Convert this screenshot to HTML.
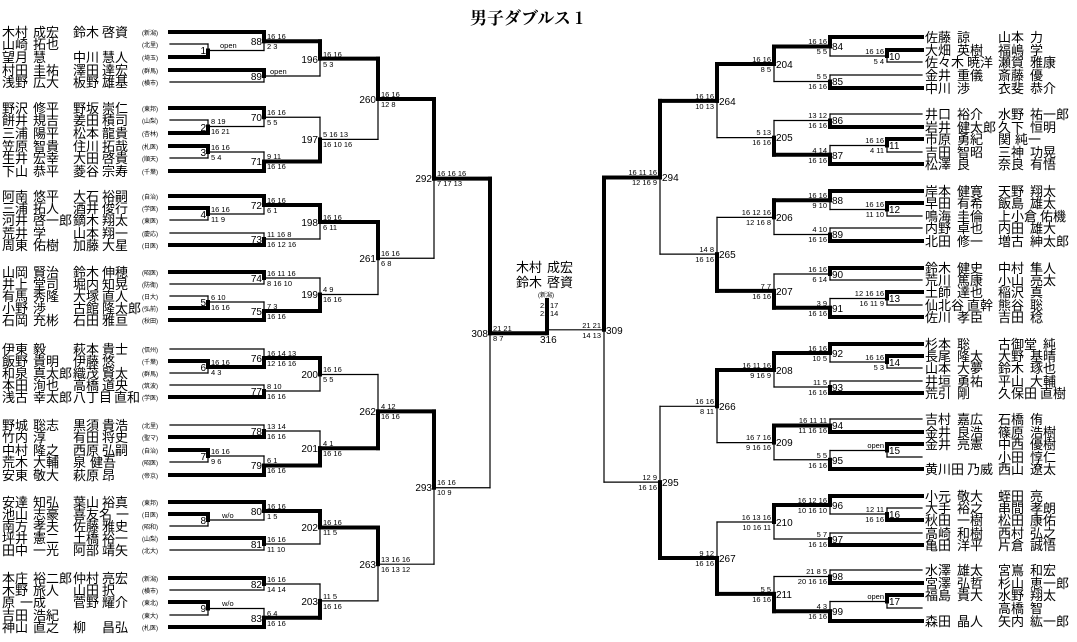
<!DOCTYPE html>
<html><head><meta charset="utf-8"><style>
html,body{margin:0;padding:0;background:#fff}
svg{display:block}
text{font-family:"Liberation Sans","Noto Sans CJK JP",sans-serif;fill:#000}
.nm{font-size:13px}
.sc{font-size:6px}
.s{font-size:7.5px}
.n{font-size:10px}
.r .s{text-anchor:end}
.l .n{text-anchor:end}
</style></head><body>
<svg id="svg" width="1077" height="642" viewBox="0 0 1077 642" xmlns="http://www.w3.org/2000/svg">
<text x="470" y="24" style="font-family:'Noto Serif CJK SC',serif;font-size:17px;font-weight:bold">男子ダブルス 1</text>
<g id="g" stroke="#000" stroke-linecap="square"></g>

<g class="nm">
<text x="2" y="37">木村<tspan x="33">成宏</tspan><tspan x="73">鈴木</tspan><tspan x="102">啓資</tspan></text>
<text x="2" y="49">山崎<tspan x="33">拓也</tspan></text>
<text x="2" y="62">望月<tspan x="33">慧</tspan><tspan x="73">中川</tspan><tspan x="102">慧人</tspan></text>
<text x="2" y="75">村田<tspan x="33">圭祐</tspan><tspan x="73">澤田</tspan><tspan x="102">達宏</tspan></text>
<text x="2" y="87">浅野<tspan x="33">広大</tspan><tspan x="73">板野</tspan><tspan x="102">雄基</tspan></text>
<text x="2" y="113">野沢<tspan x="33">修平</tspan><tspan x="73">野坂</tspan><tspan x="102">崇仁</tspan></text>
<text x="2" y="125">餅井<tspan x="33">規吉</tspan><tspan x="73">姜田</tspan><tspan x="102">積司</tspan></text>
<text x="2" y="138">三浦<tspan x="33">陽平</tspan><tspan x="73">松本</tspan><tspan x="102">龍貴</tspan></text>
<text x="2" y="151">笠原<tspan x="33">智貴</tspan><tspan x="73">住川</tspan><tspan x="102">拓哉</tspan></text>
<text x="2" y="163">生井<tspan x="33">宏幸</tspan><tspan x="73">大田</tspan><tspan x="102">啓貴</tspan></text>
<text x="2" y="176">下山<tspan x="33">恭平</tspan><tspan x="73">菱谷</tspan><tspan x="102">宗寿</tspan></text>
<text x="2" y="201">阿南<tspan x="33">悠平</tspan><tspan x="73">大石</tspan><tspan x="102">裕嗣</tspan></text>
<text x="2" y="213">三浦<tspan x="33">拓人</tspan><tspan x="73">酒井</tspan><tspan x="102">俊行</tspan></text>
<text x="2" y="225">河井<tspan x="33">啓一郎</tspan><tspan x="73">鏑木</tspan><tspan x="102">翔太</tspan></text>
<text x="2" y="238">荒井<tspan x="33">学</tspan><tspan x="73">山本</tspan><tspan x="102">翔一</tspan></text>
<text x="2" y="250">周東<tspan x="33">佑樹</tspan><tspan x="73">加藤</tspan><tspan x="102">大星</tspan></text>
<text x="2" y="277">山岡<tspan x="33">賢治</tspan><tspan x="73">鈴木</tspan><tspan x="102">伸穂</tspan></text>
<text x="2" y="289">井上<tspan x="33">堂司</tspan><tspan x="73">堀内</tspan><tspan x="102">知晃</tspan></text>
<text x="2" y="301">有馬<tspan x="33">秀隆</tspan><tspan x="73">大塚</tspan><tspan x="102">直人</tspan></text>
<text x="2" y="313">小野<tspan x="33">渉</tspan><tspan x="73">古館</tspan><tspan x="102">隆太郎</tspan></text>
<text x="2" y="325">石岡<tspan x="33">充彬</tspan><tspan x="73">石田</tspan><tspan x="102">雅亘</tspan></text>
<text x="2" y="354">伊東<tspan x="33">毅</tspan><tspan x="73">萩本</tspan><tspan x="102">貴士</tspan></text>
<text x="2" y="366">飯野<tspan x="33">貴明</tspan><tspan x="73">伊藤</tspan><tspan x="102">悠</tspan></text>
<text x="2" y="378">和泉<tspan x="33">真太郎</tspan><tspan x="73">織茂</tspan><tspan x="102">賢太</tspan></text>
<text x="2" y="390">本田<tspan x="33">洵也</tspan><tspan x="73">高橋</tspan><tspan x="102">道央</tspan></text>
<text x="2" y="402">浅古<tspan x="33">幸太郎</tspan><tspan x="73">八丁目</tspan><tspan x="114">直和</tspan></text>
<text x="2" y="430">野城<tspan x="33">聡志</tspan><tspan x="73">黒須</tspan><tspan x="102">貴浩</tspan></text>
<text x="2" y="442">竹内<tspan x="33">淳</tspan><tspan x="73">有田</tspan><tspan x="102">将史</tspan></text>
<text x="2" y="455">中村<tspan x="33">隆之</tspan><tspan x="73">西原</tspan><tspan x="102">弘嗣</tspan></text>
<text x="2" y="467">荒木<tspan x="33">大輔</tspan><tspan x="73">泉</tspan><tspan x="90">健吾</tspan></text>
<text x="2" y="480">安東<tspan x="33">敬大</tspan><tspan x="73">萩原</tspan><tspan x="102">昂</tspan></text>
<text x="2" y="507">安達<tspan x="33">知弘</tspan><tspan x="73">葉山</tspan><tspan x="102">裕真</tspan></text>
<text x="2" y="519">池山<tspan x="33">志豪</tspan><tspan x="73">喜友名</tspan><tspan x="116">一</tspan></text>
<text x="2" y="531">南方<tspan x="33">孝夫</tspan><tspan x="73">佐藤</tspan><tspan x="102">雅史</tspan></text>
<text x="2" y="543">坪井<tspan x="33">憲二</tspan><tspan x="73">土橋</tspan><tspan x="102">裕一</tspan></text>
<text x="2" y="555">田中<tspan x="33">一光</tspan><tspan x="73">阿部</tspan><tspan x="102">靖矢</tspan></text>
<text x="2" y="583">本庄<tspan x="33">裕二郎</tspan><tspan x="73">仲村</tspan><tspan x="102">亮宏</tspan></text>
<text x="2" y="595">木野<tspan x="33">旅人</tspan><tspan x="73">山田</tspan><tspan x="102">択</tspan></text>
<text x="2" y="607">原<tspan x="20">一成</tspan><tspan x="73">菅野</tspan><tspan x="102">耀介</tspan></text>
<text x="2" y="620">吉田<tspan x="33">浩紀</tspan></text>
<text x="2" y="632">神山<tspan x="33">直之</tspan><tspan x="73">柳</tspan><tspan x="102">昌弘</tspan></text>
</g>

<g class="sc">
<text x="142" y="35">(新潟)</text><text x="142" y="47">(北里)</text><text x="142" y="60">(埼玉)</text><text x="142" y="73">(群馬)</text><text x="142" y="85">(横市)</text>
<text x="142" y="111">(東邦)</text><text x="142" y="123">(山梨)</text><text x="142" y="136">(杏林)</text><text x="142" y="149">(札医)</text><text x="142" y="161">(順天)</text><text x="142" y="174">(千葉)</text>
<text x="142" y="199">(自治)</text><text x="142" y="211">(学医)</text><text x="142" y="223">(東医)</text><text x="142" y="236">(慶応)</text><text x="142" y="248">(日医)</text>
<text x="142" y="275">(昭医)</text><text x="142" y="287">(防衛)</text><text x="142" y="299">(日大)</text><text x="142" y="311">(弘前)</text><text x="142" y="323">(秋田)</text>
<text x="142" y="352">(信州)</text><text x="142" y="364">(千葉)</text><text x="142" y="376">(群馬)</text><text x="142" y="388">(筑波)</text><text x="142" y="400">(学医)</text>
<text x="142" y="428">(北里)</text><text x="142" y="440">(聖マ)</text><text x="142" y="453">(自治)</text><text x="142" y="465">(昭医)</text><text x="142" y="478">(帝京)</text>
<text x="142" y="505">(東邦)</text><text x="142" y="517">(日医)</text><text x="142" y="529">(昭和)</text><text x="142" y="541">(山梨)</text><text x="142" y="553">(北大)</text>
<text x="142" y="581">(新潟)</text><text x="142" y="593">(横市)</text><text x="142" y="605">(東北)</text><text x="142" y="618">(東大)</text><text x="142" y="630">(札医)</text>
</g>

<g class="nm">
<text x="925" y="42">佐藤<tspan x="957">諒</tspan><tspan x="998">山本</tspan><tspan x="1030">力</tspan></text>
<text x="925" y="55">大畑<tspan x="957">英樹</tspan><tspan x="998">福嶋</tspan><tspan x="1030">学</tspan></text>
<text x="925" y="67">佐々木<tspan x="967">暁洋</tspan><tspan x="998">瀬賀</tspan><tspan x="1030">雅康</tspan></text>
<text x="925" y="80">金井<tspan x="957">重儀</tspan><tspan x="998">斎藤</tspan><tspan x="1030">優</tspan></text>
<text x="925" y="93">中川<tspan x="957">渉</tspan><tspan x="998">衣斐</tspan><tspan x="1030">恭介</tspan></text>
<text x="925" y="119">井口<tspan x="957">裕介</tspan><tspan x="998">水野</tspan><tspan x="1030">祐一郎</tspan></text>
<text x="925" y="132">岩井<tspan x="957">健太郎</tspan><tspan x="998">久下</tspan><tspan x="1030">恒明</tspan></text>
<text x="925" y="144">市原<tspan x="957">勇紀</tspan><tspan x="998">関</tspan><tspan x="1015">純一</tspan></text>
<text x="925" y="157">吉田<tspan x="957">智昭</tspan><tspan x="998">三神</tspan><tspan x="1030">功晃</tspan></text>
<text x="925" y="169">松澤<tspan x="957">良</tspan><tspan x="998">奈良</tspan><tspan x="1030">有悟</tspan></text>
<text x="925" y="196">岸本<tspan x="957">健寛</tspan><tspan x="998">天野</tspan><tspan x="1030">翔太</tspan></text>
<text x="925" y="208">早田<tspan x="957">有希</tspan><tspan x="998">飯島</tspan><tspan x="1030">雄太</tspan></text>
<text x="925" y="221">鳴海<tspan x="957">圭倫</tspan><tspan x="998">上小倉</tspan><tspan x="1040">佑機</tspan></text>
<text x="925" y="233">内野<tspan x="957">卓也</tspan><tspan x="998">内田</tspan><tspan x="1030">雄大</tspan></text>
<text x="925" y="246">北田<tspan x="957">修一</tspan><tspan x="998">増古</tspan><tspan x="1030">紳太郎</tspan></text>
<text x="925" y="273">鈴木<tspan x="957">健史</tspan><tspan x="998">中村</tspan><tspan x="1030">隼人</tspan></text>
<text x="925" y="285">荒川<tspan x="957">篤康</tspan><tspan x="998">小山</tspan><tspan x="1030">亮太</tspan></text>
<text x="925" y="297">土師<tspan x="957">達也</tspan><tspan x="998">稲沢</tspan><tspan x="1030">真</tspan></text>
<text x="925" y="310">仙北谷<tspan x="967">直幹</tspan><tspan x="998">熊谷</tspan><tspan x="1030">聡</tspan></text>
<text x="925" y="322">佐川<tspan x="957">孝臣</tspan><tspan x="998">吉田</tspan><tspan x="1030">稔</tspan></text>
<text x="925" y="349">杉本<tspan x="957">聡</tspan><tspan x="998">古御堂</tspan><tspan x="1043">純</tspan></text>
<text x="925" y="361">長尾<tspan x="957">隆太</tspan><tspan x="998">大野</tspan><tspan x="1030">基晴</tspan></text>
<text x="925" y="373">山本<tspan x="957">大夢</tspan><tspan x="998">鈴木</tspan><tspan x="1030">琢也</tspan></text>
<text x="925" y="386">井垣<tspan x="957">勇祐</tspan><tspan x="998">平山</tspan><tspan x="1030">大輔</tspan></text>
<text x="925" y="398">荒引<tspan x="957">剛</tspan><tspan x="998">久保田</tspan><tspan x="1040">直樹</tspan></text>
<text x="925" y="424">吉村<tspan x="957">嘉広</tspan><tspan x="998">石橋</tspan><tspan x="1030">侑</tspan></text>
<text x="925" y="437">金井<tspan x="957">良浩</tspan><tspan x="998">篠原</tspan><tspan x="1030">浩樹</tspan></text>
<text x="925" y="449">金井<tspan x="957">亮憲</tspan><tspan x="998">中西</tspan><tspan x="1030">優樹</tspan></text>
<text x="998" y="462">小田<tspan x="1030">惇仁</tspan></text>
<text x="925" y="474">黄川田<tspan x="967">乃威</tspan><tspan x="998">西山</tspan><tspan x="1030">遼太</tspan></text>
<text x="925" y="501">小元<tspan x="957">敬大</tspan><tspan x="998">蛭田</tspan><tspan x="1030">亮</tspan></text>
<text x="925" y="513">大手<tspan x="957">裕之</tspan><tspan x="998">串間</tspan><tspan x="1030">孝朗</tspan></text>
<text x="925" y="525">秋田<tspan x="957">一樹</tspan><tspan x="998">松田</tspan><tspan x="1030">康佑</tspan></text>
<text x="925" y="538">高崎<tspan x="957">和樹</tspan><tspan x="998">西村</tspan><tspan x="1030">弘之</tspan></text>
<text x="925" y="550">亀田<tspan x="957">洋平</tspan><tspan x="998">片倉</tspan><tspan x="1030">誠悟</tspan></text>
<text x="925" y="575">水澤<tspan x="957">雄太</tspan><tspan x="998">宮嶌</tspan><tspan x="1030">和宏</tspan></text>
<text x="925" y="588">宮澤<tspan x="957">弘哲</tspan><tspan x="998">杉山</tspan><tspan x="1030">恵一郎</tspan></text>
<text x="925" y="600">福島<tspan x="957">貴大</tspan><tspan x="998">水野</tspan><tspan x="1030">翔太</tspan></text>
<text x="998" y="613">高橋<tspan x="1030">智</tspan></text>
<text x="925" y="626">森田<tspan x="957">晶人</tspan><tspan x="998">矢内</tspan><tspan x="1030">紘一郎</tspan></text>
</g>

<g class="l">
<text class="n" x="206" y="54">1</text><text class="s" x="220" y="48">open</text>
<text class="n" x="262" y="45">88</text><text class="s" x="267" y="39">16 16</text><text class="s" x="267" y="49">2 3</text>
<text class="n" x="262" y="80">89</text><text class="s" x="270" y="74">open</text>
<text class="n" x="318" y="63">196</text><text class="s" x="323" y="57">16 16</text><text class="s" x="323" y="67">5 3</text>
<text class="n" x="206" y="131">2</text><text class="s" x="211" y="124">8 19</text><text class="s" x="211" y="134">16 21</text>
<text class="n" x="262" y="121">70</text><text class="s" x="267" y="115">16 16</text><text class="s" x="267" y="125">5 5</text>
<text class="n" x="206" y="156">3</text><text class="s" x="211" y="150">16 16</text><text class="s" x="211" y="160">5 4</text>
<text class="n" x="262" y="165">71</text><text class="s" x="267" y="159">9 11</text><text class="s" x="267" y="169">16 16</text>
<text class="n" x="318" y="143">197</text><text class="s" x="323" y="137">5 16 13</text><text class="s" x="323" y="147">16 10 16</text>
<text class="n" x="376" y="103">260</text><text class="s" x="381" y="97">16 16</text><text class="s" x="381" y="107">12 8</text>
<text class="n" x="206" y="218">4</text><text class="s" x="211" y="212">16 16</text><text class="s" x="211" y="222">11 9</text>
<text class="n" x="262" y="209">72</text><text class="s" x="267" y="203">16 16</text><text class="s" x="267" y="213">6 1</text>
<text class="n" x="262" y="243">73</text><text class="s" x="267" y="237">11 16 8</text><text class="s" x="267" y="247">16 12 16</text>
<text class="n" x="318" y="226">198</text><text class="s" x="323" y="220">16 16</text><text class="s" x="323" y="230">6 11</text>
<text class="n" x="262" y="282">74</text><text class="s" x="267" y="276">16 11 16</text><text class="s" x="267" y="286">8 16 10</text>
<text class="n" x="206" y="306">5</text><text class="s" x="211" y="300">6 10</text><text class="s" x="211" y="310">16 16</text>
<text class="n" x="262" y="315">75</text><text class="s" x="267" y="309">7 3</text><text class="s" x="267" y="319">16 16</text>
<text class="n" x="318" y="298">199</text><text class="s" x="323" y="292">4 9</text><text class="s" x="323" y="302">16 16</text>
<text class="n" x="376" y="262">261</text><text class="s" x="381" y="256">16 16</text><text class="s" x="381" y="266">6 8</text>
<text class="n" x="432" y="182">292</text><text class="s" x="437" y="176">16 16 16</text><text class="s" x="437" y="186">7 17 13</text>
<text class="n" x="206" y="371">6</text><text class="s" x="211" y="365">16 16</text><text class="s" x="211" y="375">4 3</text>
<text class="n" x="262" y="362">76</text><text class="s" x="267" y="356">16 14 13</text><text class="s" x="267" y="366">12 16 16</text>
<text class="n" x="262" y="395">77</text><text class="s" x="267" y="389">8 10</text><text class="s" x="267" y="399">16 16</text>
<text class="n" x="318" y="378">200</text><text class="s" x="323" y="372">16 16</text><text class="s" x="323" y="382">5 5</text>
<text class="n" x="262" y="435">78</text><text class="s" x="267" y="429">13 14</text><text class="s" x="267" y="439">16 16</text>
<text class="n" x="206" y="460">7</text><text class="s" x="211" y="454">16 16</text><text class="s" x="211" y="464">9 6</text>
<text class="n" x="262" y="469">79</text><text class="s" x="267" y="463">6 1</text><text class="s" x="267" y="473">16 16</text>
<text class="n" x="318" y="452">201</text><text class="s" x="323" y="446">4 1</text><text class="s" x="323" y="456">16 16</text>
<text class="n" x="376" y="415">262</text><text class="s" x="381" y="409">4 12</text><text class="s" x="381" y="419">16 16</text>
<text class="n" x="206" y="524">8</text><text class="s" x="222" y="518">w/o</text>
<text class="n" x="262" y="515">80</text><text class="s" x="267" y="509">16 16</text><text class="s" x="267" y="519">1 5</text>
<text class="n" x="262" y="548">81</text><text class="s" x="267" y="542">16 16</text><text class="s" x="267" y="552">11 10</text>
<text class="n" x="318" y="531">202</text><text class="s" x="323" y="525">16 16</text><text class="s" x="323" y="535">11 5</text>
<text class="n" x="262" y="588">82</text><text class="s" x="267" y="582">16 16</text><text class="s" x="267" y="592">14 14</text>
<text class="n" x="206" y="612">9</text><text class="s" x="222" y="606">w/o</text>
<text class="n" x="262" y="622">83</text><text class="s" x="267" y="616">6 4</text><text class="s" x="267" y="626">16 16</text>
<text class="n" x="318" y="605">203</text><text class="s" x="323" y="599">11 5</text><text class="s" x="323" y="609">16 16</text>
<text class="n" x="376" y="568">263</text><text class="s" x="381" y="562">13 16 16</text><text class="s" x="381" y="572">16 13 12</text>
<text class="n" x="432" y="491">293</text><text class="s" x="437" y="485">16 16</text><text class="s" x="437" y="495">10 9</text>
<text class="n" x="488" y="337">308</text><text class="s" x="493" y="331">21 21</text><text class="s" x="493" y="341">8 7</text>
</g>

<g class="r">
<text class="n" x="889" y="60">10</text><text class="s" x="884" y="54">16 16</text><text class="s" x="884" y="64">5 4</text>
<text class="n" x="832" y="50">84</text><text class="s" x="827" y="44">16 16</text><text class="s" x="827" y="54">5 5</text>
<text class="n" x="832" y="85">85</text><text class="s" x="827" y="79">5 5</text><text class="s" x="827" y="89">16 16</text>
<text class="n" x="776" y="68">204</text><text class="s" x="771" y="62">16 16</text><text class="s" x="771" y="72">8 5</text>
<text class="n" x="832" y="124">86</text><text class="s" x="827" y="118">13 12</text><text class="s" x="827" y="128">16 16</text>
<text class="n" x="889" y="149">11</text><text class="s" x="884" y="143">16 16</text><text class="s" x="884" y="153">4 11</text>
<text class="n" x="832" y="159">87</text><text class="s" x="827" y="153">4 14</text><text class="s" x="827" y="163">16 16</text>
<text class="n" x="776" y="141">205</text><text class="s" x="771" y="135">5 13</text><text class="s" x="771" y="145">16 16</text>
<text class="n" x="719" y="105">264</text><text class="s" x="714" y="99">16 16</text><text class="s" x="714" y="109">10 13</text>
<text class="n" x="889" y="213">12</text><text class="s" x="884" y="207">16 16</text><text class="s" x="884" y="217">11 10</text>
<text class="n" x="832" y="204">88</text><text class="s" x="827" y="198">16 16</text><text class="s" x="827" y="208">9 10</text>
<text class="n" x="832" y="238">89</text><text class="s" x="827" y="232">4 10</text><text class="s" x="827" y="242">16 16</text>
<text class="n" x="776" y="221">206</text><text class="s" x="771" y="215">16 12 16</text><text class="s" x="771" y="225">12 16 8</text>
<text class="n" x="832" y="278">90</text><text class="s" x="827" y="272">16 16</text><text class="s" x="827" y="282">6 14</text>
<text class="n" x="889" y="302">13</text><text class="s" x="884" y="296">12 16 16</text><text class="s" x="884" y="306">16 11 9</text>
<text class="n" x="832" y="312">91</text><text class="s" x="827" y="306">3 9</text><text class="s" x="827" y="316">16 16</text>
<text class="n" x="776" y="295">207</text><text class="s" x="771" y="289">7 7</text><text class="s" x="771" y="299">16 16</text>
<text class="n" x="719" y="258">265</text><text class="s" x="714" y="252">14 8</text><text class="s" x="714" y="262">16 16</text>
<text class="n" x="662" y="181">294</text><text class="s" x="657" y="175">16 11 16</text><text class="s" x="657" y="185">12 16 9</text>
<text class="n" x="889" y="366">14</text><text class="s" x="884" y="360">16 16</text><text class="s" x="884" y="370">5 3</text>
<text class="n" x="832" y="357">92</text><text class="s" x="827" y="351">16 16</text><text class="s" x="827" y="361">10 5</text>
<text class="n" x="832" y="391">93</text><text class="s" x="827" y="385">11 5</text><text class="s" x="827" y="395">16 16</text>
<text class="n" x="776" y="374">208</text><text class="s" x="771" y="368">16 11 16</text><text class="s" x="771" y="378">9 16 9</text>
<text class="n" x="832" y="429">94</text><text class="s" x="827" y="423">16 11 11</text><text class="s" x="827" y="433">11 16 16</text>
<text class="n" x="889" y="454">15</text><text class="s" x="884" y="448">open</text>
<text class="n" x="832" y="464">95</text><text class="s" x="827" y="458">5 5</text><text class="s" x="827" y="468">16 16</text>
<text class="n" x="776" y="446">209</text><text class="s" x="771" y="440">16 7 16</text><text class="s" x="771" y="450">9 16 16</text>
<text class="n" x="719" y="410">266</text><text class="s" x="714" y="404">16 16</text><text class="s" x="714" y="414">8 11</text>
<text class="n" x="832" y="509">96</text><text class="s" x="827" y="503">16 12 16</text><text class="s" x="827" y="513">10 16 10</text>
<text class="n" x="889" y="518">16</text><text class="s" x="884" y="512">12 11</text><text class="s" x="884" y="522">16 16</text>
<text class="n" x="832" y="543">97</text><text class="s" x="827" y="537">5 7</text><text class="s" x="827" y="547">16 16</text>
<text class="n" x="776" y="526">210</text><text class="s" x="771" y="520">16 13 16</text><text class="s" x="771" y="530">10 16 11</text>
<text class="n" x="832" y="580">98</text><text class="s" x="827" y="574">21 8 5</text><text class="s" x="827" y="584">20 16 16</text>
<text class="n" x="889" y="605">17</text><text class="s" x="884" y="599">open</text>
<text class="n" x="832" y="615">99</text><text class="s" x="827" y="609">4 3</text><text class="s" x="827" y="619">16 16</text>
<text class="n" x="776" y="598">211</text><text class="s" x="771" y="592">5 5</text><text class="s" x="771" y="602">16 16</text>
<text class="n" x="719" y="562">267</text><text class="s" x="714" y="556">9 12</text><text class="s" x="714" y="566">16 16</text>
<text class="n" x="662" y="486">295</text><text class="s" x="657" y="480">12 9</text><text class="s" x="657" y="490">16 16</text>
<text class="n" x="606" y="334">309</text><text class="s" x="601" y="328">21 21</text><text class="s" x="601" y="338">14 13</text>
</g>

<text class="nm" x="516" y="272">木村<tspan x="547">成宏</tspan></text>
<text class="nm" x="516" y="287">鈴木<tspan x="547">啓資</tspan></text>
<text class="sc" x="538" y="297">(新潟)</text>
<text class="s" x="540" y="308">21</text><text class="s" x="550" y="308">17</text>
<text class="s" x="540" y="316">21</text><text class="s" x="550" y="316">14</text>
<text class="n" x="540" y="343">316</text>
</svg>
<script>
var ns="http://www.w3.org/2000/svg",G=document.getElementById('g');
function ln(x1,y1,x2,y2,t){var l=document.createElementNS(ns,'line');l.setAttribute('x1',x1);l.setAttribute('y1',y1);l.setAttribute('x2',x2);l.setAttribute('y2',y2);l.setAttribute('stroke-width',t?4:1.2);G.appendChild(l);}
function m(x,a,b,w){ln(a.x,a.y,x,a.y,w==0);ln(b.x,b.y,x,b.y,w==1);var mid=(a.y+b.y)/2,wy=w?b.y:a.y,ly=w?a.y:b.y;ln(x,mid,x,ly,0);ln(x,wy,x,mid,1);return {x:x,y:mid};}
function E(y){return {x:170,y:y};}function R(y){return {x:922,y:y};}
var a88=m(264,E(32),m(208,E(44),E(57),1),0),a89=m(264,E(70),E(82),0),a196=m(320,a88,a89,0);
var a70=m(264,E(108),m(208,E(120),E(133),1),0),a71=m(264,m(208,E(146),E(158),0),E(171),1),a197=m(320,a70,a71,1),a260=m(378,a196,a197,0);
var a72=m(264,E(196),m(208,E(208),E(220),0),0),a73=m(264,E(233),E(245),1),a198=m(320,a72,a73,0);
var a74=m(264,E(272),E(284),0),a75=m(264,m(208,E(296),E(308),1),E(320),1),a199=m(320,a74,a75,1),a261=m(378,a198,a199,0),a292=m(434,a260,a261,0);
var a76=m(264,E(349),m(208,E(361),E(373),0),1),a77=m(264,E(385),E(397),1),a200=m(320,a76,a77,0);
var a78=m(264,E(425),E(437),1),a79=m(264,m(208,E(450),E(462),0),E(475),1),a201=m(320,a78,a79,1),a262=m(378,a200,a201,1);
var a80=m(264,E(502),m(208,E(514),E(526),0),0),a81=m(264,E(538),E(550),0),a202=m(320,a80,a81,0);
var a82=m(264,E(578),E(590),0),a83=m(264,m(208,E(602),E(615),0),E(627),1),a203=m(320,a82,a83,1),a263=m(378,a202,a203,0),a293=m(434,a262,a263,0);
var a308=m(490,a292,a293,0);
var b84=m(830,R(37),m(887,R(50),R(62),0),0),b85=m(830,R(75),R(88),1),b204=m(774,b84,b85,0);
var b86=m(830,R(114),R(127),1),b87=m(830,m(887,R(139),R(152),0),R(164),1),b205=m(774,b86,b87,1),b264=m(717,b204,b205,0);
var b88=m(830,R(191),m(887,R(203),R(216),0),0),b89=m(830,R(228),R(241),1),b206=m(774,b88,b89,0);
var b90=m(830,R(268),R(280),0),b91=m(830,m(887,R(292),R(305),0),R(317),1),b207=m(774,b90,b91,1),b265=m(717,b206,b207,1),b294=m(660,b264,b265,0);
var b92=m(830,R(344),m(887,R(356),R(368),0),0),b93=m(830,R(381),R(393),1),b208=m(774,b92,b93,0);
var b94=m(830,R(419),R(432),1),b95=m(830,m(887,R(444),R(457),0),R(469),1),b209=m(774,b94,b95,0),b266=m(717,b208,b209,0);
var b96=m(830,R(496),m(887,R(508),R(520),1),0),b97=m(830,R(533),R(545),1),b210=m(774,b96,b97,0);
var b98=m(830,R(570),R(583),1),b99=m(830,m(887,R(595),R(608),0),R(621),1),b211=m(774,b98,b99,1),b267=m(717,b210,b211,1),b295=m(660,b266,b267,1);
var b309=m(604,b294,b295,0);
ln(490,a308.y,547,a308.y,1);ln(604,b309.y,547,b309.y,0);ln(547,300,547,a308.y,1);
</script>
</body></html>
